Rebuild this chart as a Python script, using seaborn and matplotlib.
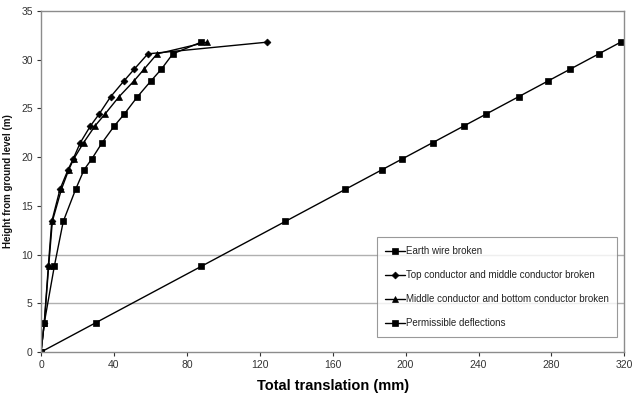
import matplotlib
matplotlib.use("Agg")
import matplotlib.pyplot as plt
import seaborn as sns
import pandas as pd

sns.set_theme(style="white")
plt.rcParams['font.family'] = ['Liberation Sans', 'DejaVu Sans']

heights = [0, 3.0, 8.8, 13.4, 16.7, 18.7, 19.8, 21.5, 23.2, 24.4, 26.2, 27.8, 29.0, 30.6, 31.8]
earth_wire = [0, 1.8, 7.3, 12.2, 19.0, 23.6, 27.8, 33.6, 40.2, 45.6, 52.9, 60.2, 65.9, 72.3, 87.8]
top_middle = [0, 1.8, 4.0, 5.9, 10.4, 14.8, 17.6, 21.6, 27.1, 31.8, 38.2, 45.4, 51.0, 58.6, 124.0]
middle_bottom = [0, 1.8, 4.2, 6.2, 11.2, 15.2, 17.9, 23.4, 29.6, 35.0, 42.8, 50.9, 56.4, 63.7, 90.9]
permissible = [0, 30, 88, 134, 167, 187, 198, 215, 232, 244, 262, 278, 290, 306, 318]

series_names = ["Earth wire broken",
                "Top conductor and middle conductor broken",
                "Middle conductor and bottom conductor broken",
                "Permissible deflections"]
series_values = [earth_wire, top_middle, middle_bottom, permissible]
markers = ["s", "D", "^", "s"]
msizes = [5, 3.5, 4.5, 4.5]

fig = plt.figure(figsize=(6.33, 4.01), dpi=100)
ax = fig.add_axes([0.0648, 0.1222, 0.9215, 0.8504])

for name, vals, mk, ms in zip(series_names, series_values, markers, msizes):
    df = pd.DataFrame({"x": vals, "y": heights})
    sns.lineplot(data=df, x="x", y="y", sort=False, ax=ax, color="black",
                 linewidth=1.0, marker=mk, markersize=ms, markeredgewidth=0.5,
                 markeredgecolor="black", label=name)

for gy in [5, 10]:
    ax.axhline(gy, color="#b0b0b0", linewidth=1.0, zorder=0)

ax.set_xlim(0, 320)
ax.set_ylim(0, 35)
ax.set_xticks(range(0, 321, 40))
ax.set_yticks(range(0, 36, 5))
ax.tick_params(axis="both", labelsize=7.5, colors="#333333", length=3, width=0.8,
               direction="out", bottom=True, left=True, pad=3)
for s in ax.spines.values():
    s.set_color("#8c8c8c")
    s.set_linewidth(1.0)

ax.set_xlabel("Total translation (mm)", fontsize=10.5, fontweight="bold", color="black", labelpad=6)
ax.set_ylabel("Height from ground level (m)", fontsize=7, fontweight="bold", color="#111111")
ax.yaxis.set_label_coords(-0.048, 0.5)

leg = ax.legend(loc="lower right", bbox_to_anchor=(0.988, 0.044), fontsize=7,
                frameon=True, fancybox=False, labelspacing=1.45, handlelength=2.0,
                handletextpad=0.1, borderpad=0.9, borderaxespad=0)
leg.get_frame().set_edgecolor("#808080")
leg.get_frame().set_linewidth(0.8)
for t in leg.get_texts():
    t.set_color("#222222")

fig.savefig("out.png", dpi=100)
